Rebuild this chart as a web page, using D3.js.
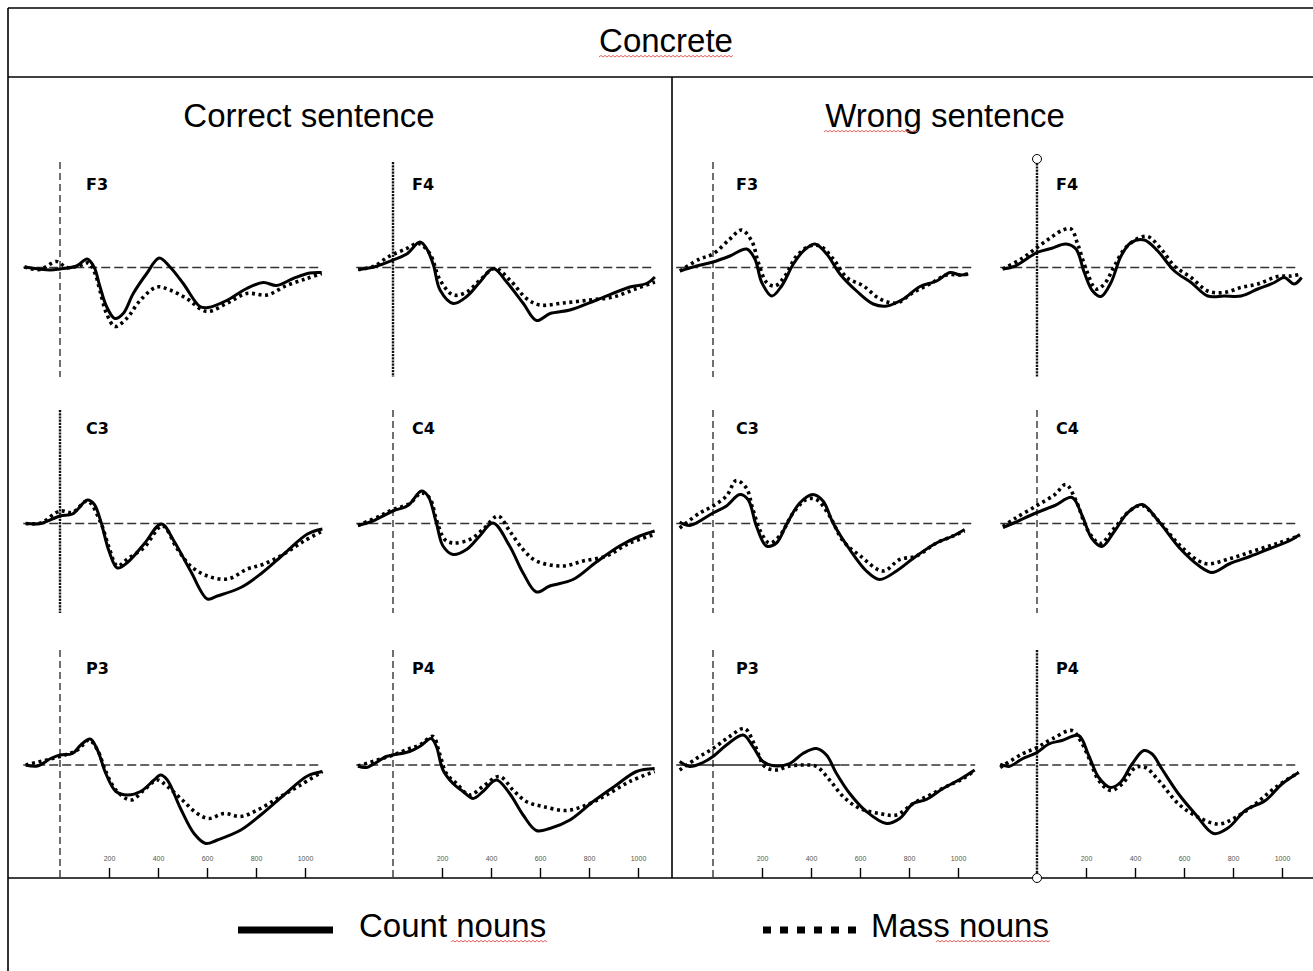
<!DOCTYPE html>
<html>
<head>
<meta charset="utf-8">
<script src="https://cdn.jsdelivr.net/npm/d3@7"></script>
<style>
  body { margin: 0; background: #fff; }
  svg { display: block; }
</style>
</head>
<body>
<svg id="chart" width="1313" height="971"></svg>
<script>
// ---- Labels ----
const figureTitle = "Concrete";
const conditions = ["Correct sentence", "Wrong sentence"];
const electrodeRows = [["F3", "F4"], ["C3", "C4"], ["P3", "P4"]];
const seriesNames = ["Count nouns", "Mass nouns"];
const tickValues = [200, 400, 600, 800, 1000];

// ---- Grand-average waveforms: [time (ms), amplitude (µV)] ----
const correctF3Count = [[-145,0.05],[-40,-0.25],[0,-0.15],[68,0.15],[111,0.85],[139,0.05],[163,-1.9],[190,-3.9],[224,-5.1],[258,-4.6],[299,-2.6],[354,-0.6],[405,0.95],[449,0.05],[503,-1.6],[571,-3.9],[605,-4.0],[680,-3.3],[762,-2.1],[830,-1.5],[884,-1.8],[952,-1.1],[1020,-0.55],[1068,-0.5]];
const correctF3Mass = [[-145,0.05],[-82,-0.2],[-14,0.6],[27,0],[82,0.2],[116,0.45],[143,-0.6],[163,-2.3],[190,-4.6],[224,-5.9],[272,-5.1],[327,-3.3],[395,-1.95],[449,-2.25],[517,-3.1],[599,-4.4],[680,-3.6],[762,-2.6],[844,-2.75],[925,-1.8],[1007,-1.1],[1068,-0.6]];
const correctF4Count = [[-142,-0.2],[-80,0.05],[0,0.75],[56,1.35],[110,2.55],[137,1.9],[165,0.25],[192,-2.25],[246,-3.6],[301,-2.9],[355,-1.45],[409,-0.1],[464,-1.45],[532,-3.6],[586,-5.3],[641,-4.6],[722,-4.25],[831,-3.25],[967,-1.95],[1035,-1.6],[1069,-0.95]];
const correctF4Mass = [[-142,-0.2],[-80,0.1],[-17,1.1],[56,1.9],[104,2.4],[150,1.4],[192,-1.25],[246,-2.75],[301,-2.45],[355,-1.25],[416,-0.1],[477,-1.25],[545,-3.1],[600,-3.75],[695,-3.55],[804,-3.25],[899,-2.95],[994,-2.1],[1069,-1.45]];
const correctC3Count = [[-140,0],[-79,0],[0,0.75],[51,0.95],[112,2.35],[139,1.95],[166,0.25],[200,-2.75],[234,-4.45],[275,-3.9],[343,-2.05],[414,-0.05],[465,-1.75],[533,-4.75],[602,-7.55],[642,-7.25],[738,-6.4],[819,-5.05],[914,-3.05],[1010,-1.05],[1071,-0.55]];
const correctC3Mass = [[-140,0],[-79,0.05],[0,1.25],[51,1.1],[112,2.25],[166,0.1],[200,-2.4],[234,-4.25],[275,-3.55],[343,-2.4],[418,-0.25],[479,-2.55],[533,-4.25],[602,-5.25],[684,-5.55],[765,-4.55],[833,-4.05],[914,-3.05],[996,-1.75],[1071,-0.75]];
const correctC4Count = [[-143,-0.2],[-82,0.25],[0,1.25],[61,1.8],[116,3.25],[143,2.75],[177,0.05],[204,-2.25],[245,-3.1],[300,-2.6],[354,-1.25],[408,0.05],[476,-2.25],[531,-4.95],[585,-6.85],[640,-6.25],[735,-5.6],[830,-3.85],[925,-2.25],[1007,-1.25],[1068,-0.75]];
const correctC4Mass = [[-143,-0.2],[-54,0.75],[0,1.4],[68,2.0],[116,3.05],[150,2.55],[177,0.4],[211,-1.6],[245,-1.95],[313,-1.6],[367,-0.6],[429,0.75],[476,-0.75],[531,-2.6],[585,-3.75],[694,-4.25],[776,-3.75],[871,-3.25],[966,-1.95],[1068,-1.1]];
const correctP3Count = [[-140,0],[-92,-0.1],[-38,0.65],[0,1.0],[51,1.15],[85,2.0],[123,2.6],[153,1.5],[187,-0.85],[228,-2.65],[275,-3.0],[329,-2.65],[384,-1.5],[411,-1.0],[438,-1.5],[492,-4.35],[547,-6.85],[595,-7.85],[642,-7.5],[738,-6.5],[819,-5.0],[914,-3.0],[1010,-1.1],[1071,-0.65]];
const correctP3Mass = [[-140,0],[0,0.85],[71,1.5],[119,2.5],[153,1.5],[187,-0.65],[228,-2.5],[289,-3.5],[343,-2.5],[398,-1.5],[438,-2.15],[499,-3.5],[560,-4.85],[608,-5.35],[669,-4.85],[738,-5.15],[806,-4.5],[887,-3.35],[982,-2.0],[1071,-0.65]];
const correctP4Count = [[-143,-0.1],[-109,-0.25],[-27,0.85],[0,1.0],[68,1.35],[109,1.85],[156,2.65],[177,1.85],[204,-0.5],[245,-1.85],[286,-2.65],[327,-3.35],[367,-2.65],[422,-1.5],[476,-2.85],[531,-5.0],[585,-6.55],[640,-6.35],[722,-5.5],[817,-3.65],[912,-2.0],[994,-0.65],[1068,-0.35]];
const correctP4Mass = [[-143,-0.1],[0,1.0],[68,1.65],[109,2.0],[163,2.85],[190,1.15],[218,-0.85],[259,-1.85],[313,-3.0],[367,-2.15],[435,-1.15],[490,-2.5],[544,-3.65],[612,-4.15],[708,-4.55],[790,-4.0],[871,-3.0],[966,-1.65],[1068,-0.65]];

const wrongF3Count = [[-135,-0.35],[-67,0.15],[0,0.55],[69,1.15],[137,1.85],[171,0.85],[199,-1.5],[240,-2.85],[280,-1.85],[328,0.35],[369,1.65],[416,2.35],[464,1.35],[518,-0.65],[586,-2.35],[654,-3.65],[709,-3.85],[777,-3.15],[845,-1.9],[913,-1.35],[967,-0.5],[1008,-0.75],[1042,-0.65]];
const wrongF3Mass = [[-135,-0.35],[-54,0.85],[0,1.35],[69,2.85],[117,3.75],[158,2.65],[185,0.5],[219,-1.5],[253,-1.85],[294,-0.85],[341,1.15],[396,2.15],[437,2.15],[491,0.85],[546,-1.0],[614,-1.85],[682,-3.15],[749,-3.55],[817,-2.5],[885,-1.65],[953,-0.75],[1008,-0.75],[1042,-0.65]];
const wrongF4Count = [[-140,-0.15],[-93,0.1],[0,1.5],[57,1.9],[118,2.35],[159,1.85],[193,-0.5],[227,-2.35],[261,-2.9],[302,-1.5],[343,1.15],[384,2.5],[438,2.75],[493,1.65],[561,-0.35],[629,-1.5],[697,-2.85],[765,-2.85],[833,-2.85],[901,-2.15],[969,-1.5],[1009,-1.0],[1050,-1.65],[1080,-1.0]];
const wrongF4Mass = [[-140,-0.15],[-65,0.85],[0,2.0],[57,3.0],[105,3.75],[139,3.85],[166,2.35],[200,-0.15],[241,-2.15],[275,-1.65],[316,0.15],[357,1.85],[411,2.9],[452,3.1],[507,1.85],[561,0.15],[629,-1.0],[697,-2.35],[765,-2.5],[833,-2.0],[901,-1.65],[982,-0.9],[1037,-0.85],[1080,-0.65]];
const wrongC3Count = [[-136,0.15],[-95,-0.2],[0,1.05],[55,1.75],[109,2.9],[143,2.4],[177,-0.25],[218,-2.25],[259,-1.95],[300,-0.1],[354,2.05],[408,2.9],[449,2.25],[490,0.05],[558,-2.6],[626,-4.75],[680,-5.6],[749,-4.75],[830,-3.25],[912,-1.95],[980,-1.25],[1027,-0.6]];
const wrongC3Mass = [[-136,-0.45],[-54,1.05],[0,1.75],[55,2.75],[95,4.3],[136,3.55],[163,1.4],[197,-0.95],[231,-1.95],[272,-1.25],[327,1.05],[381,2.4],[422,2.4],[476,0.75],[531,-1.75],[599,-3.2],[694,-4.75],[762,-3.6],[830,-3.25],[912,-1.95],[980,-1.25],[1027,-0.75]];
const wrongC4Count = [[-139,-0.4],[-90,0.1],[0,1.1],[73,1.8],[143,2.6],[184,0.8],[224,-1.5],[265,-2.3],[318,-0.7],[371,1.1],[429,1.9],[494,0.3],[584,-2.5],[665,-4.3],[714,-4.9],[788,-4.0],[869,-3.3],[951,-2.5],[1033,-1.7],[1073,-1.1]];
const wrongC4Mass = [[-139,-0.3],[-90,0.5],[0,1.8],[73,2.9],[118,3.9],[159,2.3],[208,-0.7],[257,-2.0],[318,-0.4],[380,1.3],[429,1.8],[502,0.1],[584,-2.2],[686,-4.0],[788,-3.5],[890,-2.7],[992,-1.9],[1073,-1.2]];
const wrongP3Count = [[-136,0.35],[-95,-0.15],[-41,0.25],[0,0.85],[55,2.0],[123,3.0],[163,1.85],[204,0.35],[259,-0.1],[313,0.15],[367,1.15],[422,1.65],[463,1.0],[504,-0.85],[558,-2.85],[626,-4.65],[708,-5.85],[762,-5.35],[817,-3.85],[871,-3.45],[939,-2.35],[1007,-1.45],[1068,-0.5]];
const wrongP3Mass = [[-136,-0.5],[-68,0.65],[0,1.65],[68,2.85],[129,3.65],[170,2.0],[211,-0.15],[259,-0.5],[313,-0.1],[367,0],[422,-0.15],[476,-1.5],[531,-3.15],[599,-4.35],[680,-4.85],[749,-5.0],[817,-3.85],[885,-3.0],[953,-2.15],[1021,-1.35],[1068,-0.55]];
const wrongP4Count = [[-150,0.1],[-115,-0.15],[-61,0.6],[0,1.25],[48,2.1],[102,2.45],[170,2.95],[211,0.95],[252,-1.25],[300,-2.25],[340,-1.75],[388,0.1],[436,1.45],[470,1.1],[510,-0.4],[578,-2.9],[646,-4.9],[721,-6.85],[782,-6.25],[850,-4.55],[932,-3.55],[1000,-1.9],[1068,-0.75]];
const wrongP4Mass = [[-150,-0.25],[-61,1.1],[0,1.75],[61,2.6],[143,3.45],[177,2.45],[211,0.75],[252,-1.55],[300,-2.55],[347,-1.9],[402,-0.25],[442,-0.25],[497,-1.55],[578,-3.9],[660,-5.25],[742,-5.9],[810,-5.25],[891,-3.9],[973,-2.25],[1068,-0.75]];

const waveforms = {
  "0-F3": [correctF3Count, correctF3Mass], "0-F4": [correctF4Count, correctF4Mass],
  "0-C3": [correctC3Count, correctC3Mass], "0-C4": [correctC4Count, correctC4Mass],
  "0-P3": [correctP3Count, correctP3Mass], "0-P4": [correctP4Count, correctP4Mass],
  "1-F3": [wrongF3Count, wrongF3Mass], "1-F4": [wrongF4Count, wrongF4Mass],
  "1-C3": [wrongC3Count, wrongC3Mass], "1-C4": [wrongC4Count, wrongC4Mass],
  "1-P3": [wrongP3Count, wrongP3Mass], "1-P4": [wrongP4Count, wrongP4Mass]
};

// ---- Layout ----
const W = 1313, H = 971;
const onsetX = [60, 393, 713, 1037];          // x of stimulus onset per panel column
const msPerPx = 0.245;                         // px per ms
const rowBase = [267.5, 523.5, 765];           // y of 0 µV per panel row
const pxPerUV = 10;
const rowSpan = [[162, 377], [410, 613], [650, 878]];  // onset marker extent
const labelBase = [190, 434, 674];
const labelOffset = [26, 19, 23, 19];
const denseOnset = new Set(["0-F4", "0-C3", "1-F4", "1-P4"]);
const sansFont = "'Liberation Sans', Arial, sans-serif";

const svg = d3.select("#chart");

// Table frame
const frame = svg.append("g").attr("stroke", "#000").attr("stroke-width", 1.6).attr("fill", "none");
frame.append("line").attr("x1", 8).attr("y1", 8).attr("x2", W).attr("y2", 8);
frame.append("line").attr("x1", 8).attr("y1", 8).attr("x2", 8).attr("y2", H);
frame.append("line").attr("x1", 8).attr("y1", 77).attr("x2", W).attr("y2", 77);
frame.append("line").attr("x1", 8).attr("y1", 878).attr("x2", W).attr("y2", 878);
frame.append("line").attr("x1", 672).attr("y1", 77).attr("x2", 672).attr("y2", 878);

// Spell-check style wavy underline
function squiggle(x1, x2, y) {
  const p = d3.path();
  p.moveTo(x1, y);
  let up = true;
  for (let x = x1 + 2; x <= x2; x += 2) { p.lineTo(x, up ? y - 1.6 : y); up = !up; }
  svg.append("path").attr("d", p.toString()).attr("fill", "none")
    .attr("stroke", "#e0504a").attr("stroke-width", 0.9);
}

// Titles
svg.append("text").attr("x", 666).attr("y", 52).attr("text-anchor", "middle")
  .attr("font-family", sansFont).attr("font-size", 33).text(figureTitle);
squiggle(599, 733, 57);

const headX = [309, 945];
conditions.forEach((c, i) => {
  svg.append("text").attr("x", headX[i]).attr("y", 127).attr("text-anchor", "middle")
    .attr("font-family", sansFont).attr("font-size", 33).text(c);
});
squiggle(824, 918, 132);

// Panels
const waveLine = d3.line().curve(d3.curveCatmullRom.alpha(0.5));

conditions.forEach((cond, ci) => {
  electrodeRows.forEach((pair, ri) => {
    pair.forEach((el, side) => {
      const col = ci * 2 + side;
      const key = ci + "-" + el;
      const x = d3.scaleLinear().domain([0, 1000]).range([onsetX[col], onsetX[col] + 1000 * msPerPx]);
      const y = d3.scaleLinear().domain([0, 1]).range([rowBase[ri], rowBase[ri] - pxPerUV]);
      const g = svg.append("g");

      // zero-amplitude reference line
      const zx0 = x(-150), zx1 = x(1070), zy = y(0);
      if (key === "1-P3") {
        g.append("line").attr("x1", zx0).attr("x2", x(520)).attr("y1", zy).attr("y2", zy)
          .attr("stroke", "#222").attr("stroke-width", 1.3);
        g.append("line").attr("x1", x(520)).attr("x2", zx1).attr("y1", zy).attr("y2", zy)
          .attr("stroke", "#333").attr("stroke-width", 1.3).attr("stroke-dasharray", "9,4");
      } else {
        g.append("line").attr("x1", zx0).attr("x2", zx1).attr("y1", zy).attr("y2", zy)
          .attr("stroke", "#333").attr("stroke-width", 1.3).attr("stroke-dasharray", "9,4");
      }

      // stimulus onset marker
      const ox = x(0);
      let top = rowSpan[ri][0];
      if (key === "1-F4") top = 160;
      const onset = g.append("line").attr("x1", ox).attr("x2", ox)
        .attr("y1", top).attr("y2", rowSpan[ri][1]).attr("stroke", "#111");
      if (denseOnset.has(key)) onset.attr("stroke-width", 2.4).attr("stroke-dasharray", "2.2,1");
      else onset.attr("stroke-width", 1.2).attr("stroke-dasharray", "7,4");

      // electrode label
      g.append("text").attr("x", ox + labelOffset[col]).attr("y", labelBase[ri])
        .attr("font-family", "'DejaVu Sans', Verdana, sans-serif").attr("font-weight", "bold")
        .attr("font-size", 16).text(el);

      const [cnt, mass] = waveforms[key];
      waveLine.x(d => x(d[0])).y(d => y(d[1]));
      g.append("path").attr("d", waveLine(mass)).attr("fill", "none")
        .attr("stroke", "#000").attr("stroke-width", 3.6).attr("stroke-dasharray", "3,3.6");
      g.append("path").attr("d", waveLine(cnt)).attr("fill", "none")
        .attr("stroke", "#000").attr("stroke-width", 3).attr("stroke-linejoin", "round");

      // time axis on the bottom row
      if (ri === 2) {
        const ax = g.append("g").attr("transform", "translate(0,878)")
          .call(d3.axisTop(x).tickValues(tickValues).tickFormat(d3.format("d"))
            .tickSize(10).tickPadding(7));
        ax.select(".domain").remove();
        ax.selectAll(".tick line").attr("stroke", "#000").attr("stroke-width", 1.4);
        ax.selectAll(".tick text").attr("font-family", sansFont).attr("font-size", 7)
          .attr("fill", "#555");
      }

      // object handles on the right-hand onset marker
      if (key === "1-F4" || key === "1-P4") {
        g.append("circle").attr("cx", ox).attr("cy", key === "1-F4" ? 159 : 878).attr("r", 4.5)
          .attr("fill", "#fff").attr("stroke", "#000").attr("stroke-width", 1);
      }
    });
  });
});

// Legend
const legend = svg.append("g");
legend.append("line").attr("x1", 238).attr("x2", 333).attr("y1", 930).attr("y2", 930)
  .attr("stroke", "#000").attr("stroke-width", 7);
legend.append("text").attr("x", 359).attr("y", 937).attr("font-family", sansFont)
  .attr("font-size", 33).text(seriesNames[0]);
legend.append("line").attr("x1", 763).attr("x2", 857).attr("y1", 930).attr("y2", 930)
  .attr("stroke", "#000").attr("stroke-width", 7).attr("stroke-dasharray", "8,9");
legend.append("text").attr("x", 871).attr("y", 937).attr("font-family", sansFont)
  .attr("font-size", 33).text(seriesNames[1]);
squiggle(451, 547, 942);
squiggle(936, 1050, 942);
</script>
</body>
</html>
